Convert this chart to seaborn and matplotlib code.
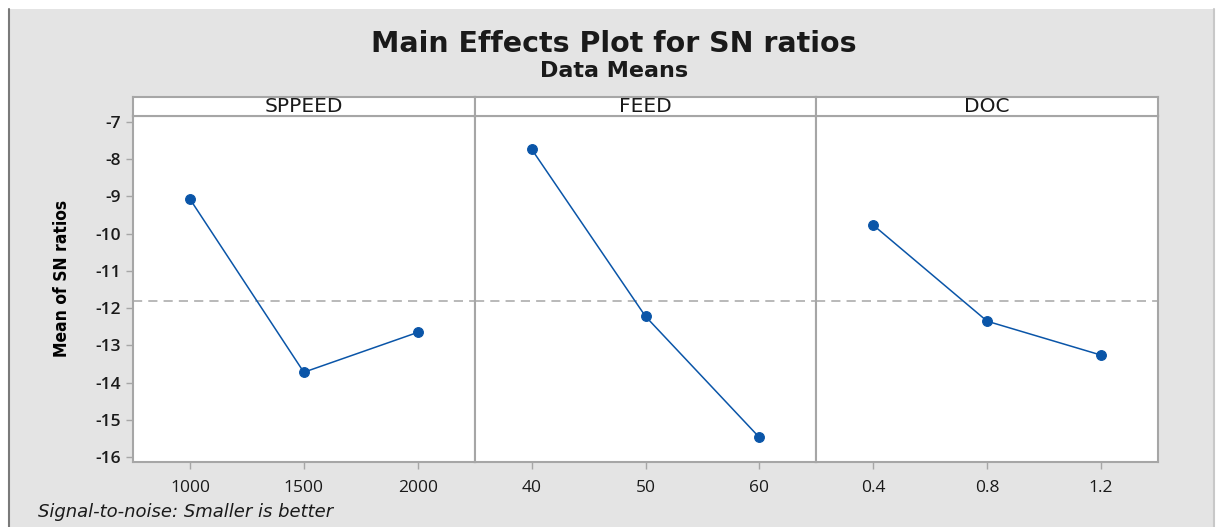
import pandas as pd
import numpy as np

import seaborn as sns
import matplotlib.pyplot as plt
from matplotlib.patches import Rectangle

# valores
factores = ['SPPEED', 'FEED', 'DOC']
niveles_speed = ['1000', '1500', '2000']
niveles_feed = ['40', '50', '60']
niveles_doc = ['0.4', '0.8', '1.2']
sn_speed = [-9.07, -13.72, -12.65]
sn_feed = [-7.73, -12.22, -15.47]
sn_doc = [-9.77, -12.35, -13.26]
y_ticks = [-7, -8, -9, -10, -11, -12, -13, -14, -15, -16]

niveles = [niveles_speed, niveles_feed, niveles_doc]
valores = [sn_speed, sn_feed, sn_doc]

filas = []
for f, lv, vals in zip(factores, niveles, valores):
  for l, v in zip(lv, vals):
    filas.append({'factor': f, 'nivel': l, 'sn': v})
df = pd.DataFrame(filas)
media = df.groupby('factor')['sn'].mean().mean()

sns.set_style('white')
plt.rcParams['font.family'] = ['Open Sans', 'DejaVu Sans']
plt.rcParams['axes.unicode_minus'] = False
ancha = ['DejaVu Sans']

azul = '#0a55a8'
gris = '#a6a6a6'

fig = plt.figure(figsize=(12.21, 5.27), dpi=100, facecolor='white')
# fondo gris tipo ventana
fig.patches.append(Rectangle((10/1221, 0), 1203/1221, 518/527, transform=fig.transFigure,
                             facecolor='#e4e4e4', edgecolor='none', zorder=-10))
fig.add_artist(plt.Line2D([9/1221, 9/1221], [0, 518/527], color='#7a7a7a', lw=1.5))
fig.add_artist(plt.Line2D([1214/1221, 1214/1221], [0, 518/527], color='#c8c8c8', lw=1.5))

left, right = 133/1221, 1158/1221
bottom, top = (527-462)/527, (527-116)/527
strip_h = 19/527
ancho = (right-left)/3

axes = []
for i, f in enumerate(factores):
  ax = fig.add_axes([left + i*ancho, bottom, ancho, top-bottom])
  axes.append(ax)
  sub = df[df['factor'] == f]
  sns.pointplot(data=sub, x='nivel', y='sn', order=niveles[i], ax=ax,
                color=azul, markers='o', markersize=7, linewidth=1.1)
  ax.axhline(media, color=gris, ls=(0, (6, 4)), lw=1.1, zorder=0)
  ax.set_xlim(-0.5, 2.5)
  ax.set_ylim(-16.13, -6.84)
  ax.set_yticks(y_ticks)
  ax.set_xlabel('')
  ax.set_ylabel('')
  ax.set_facecolor('white')
  for s in ax.spines.values():
    s.set_color(gris)
    s.set_linewidth(1.5)
  ax.tick_params(axis='x', bottom=True, length=5, width=1, color=gris,
                 labelsize=12.5, pad=8, labelcolor='#1a1a1a')
  if i == 0:
    ax.tick_params(axis='y', left=True, length=5, width=1, color=gris,
                   labelsize=12.5, labelcolor='#1a1a1a')
    for t in ax.get_yticklabels():
      t.set_fontweight('semibold')
  else:
    ax.tick_params(axis='y', left=False, labelleft=False)

  # franja con el nombre del factor
  sax = fig.add_axes([left + i*ancho, top, ancho, strip_h])
  sax.set_xticks([])
  sax.set_yticks([])
  sax.set_facecolor('white')
  for s in sax.spines.values():
    s.set_color(gris)
    s.set_linewidth(1.5)
  sax.text(0.5, 0.5, f, ha='center', va='center', fontsize=14.5, color='#1a1a1a',
           family=ancha, transform=sax.transAxes)

fig.text(614/1221, 1-44/527, 'Main Effects Plot for SN ratios', ha='center', va='center',
         fontsize=20.5, fontweight='bold', color='#1a1a1a', family=ancha)
fig.text(614/1221, 1-71/527, 'Data Means', ha='center', va='center',
         fontsize=16, fontweight='bold', color='#1a1a1a', family=ancha)
fig.text(62/1221, 1-278/527, 'Mean of SN ratios', ha='center', va='center', rotation=90,
         fontsize=12.5, fontweight='bold', fontstretch='condensed',
         family=['Liberation Sans Narrow', 'DejaVu Sans'], color='black')
fig.text(38/1221, 1-512/527, 'Signal-to-noise: Smaller is better', ha='left', va='center',
         fontsize=13, style='italic', color='#1a1a1a', family=ancha)

fig.savefig('out.png', dpi=100, facecolor=fig.get_facecolor())
